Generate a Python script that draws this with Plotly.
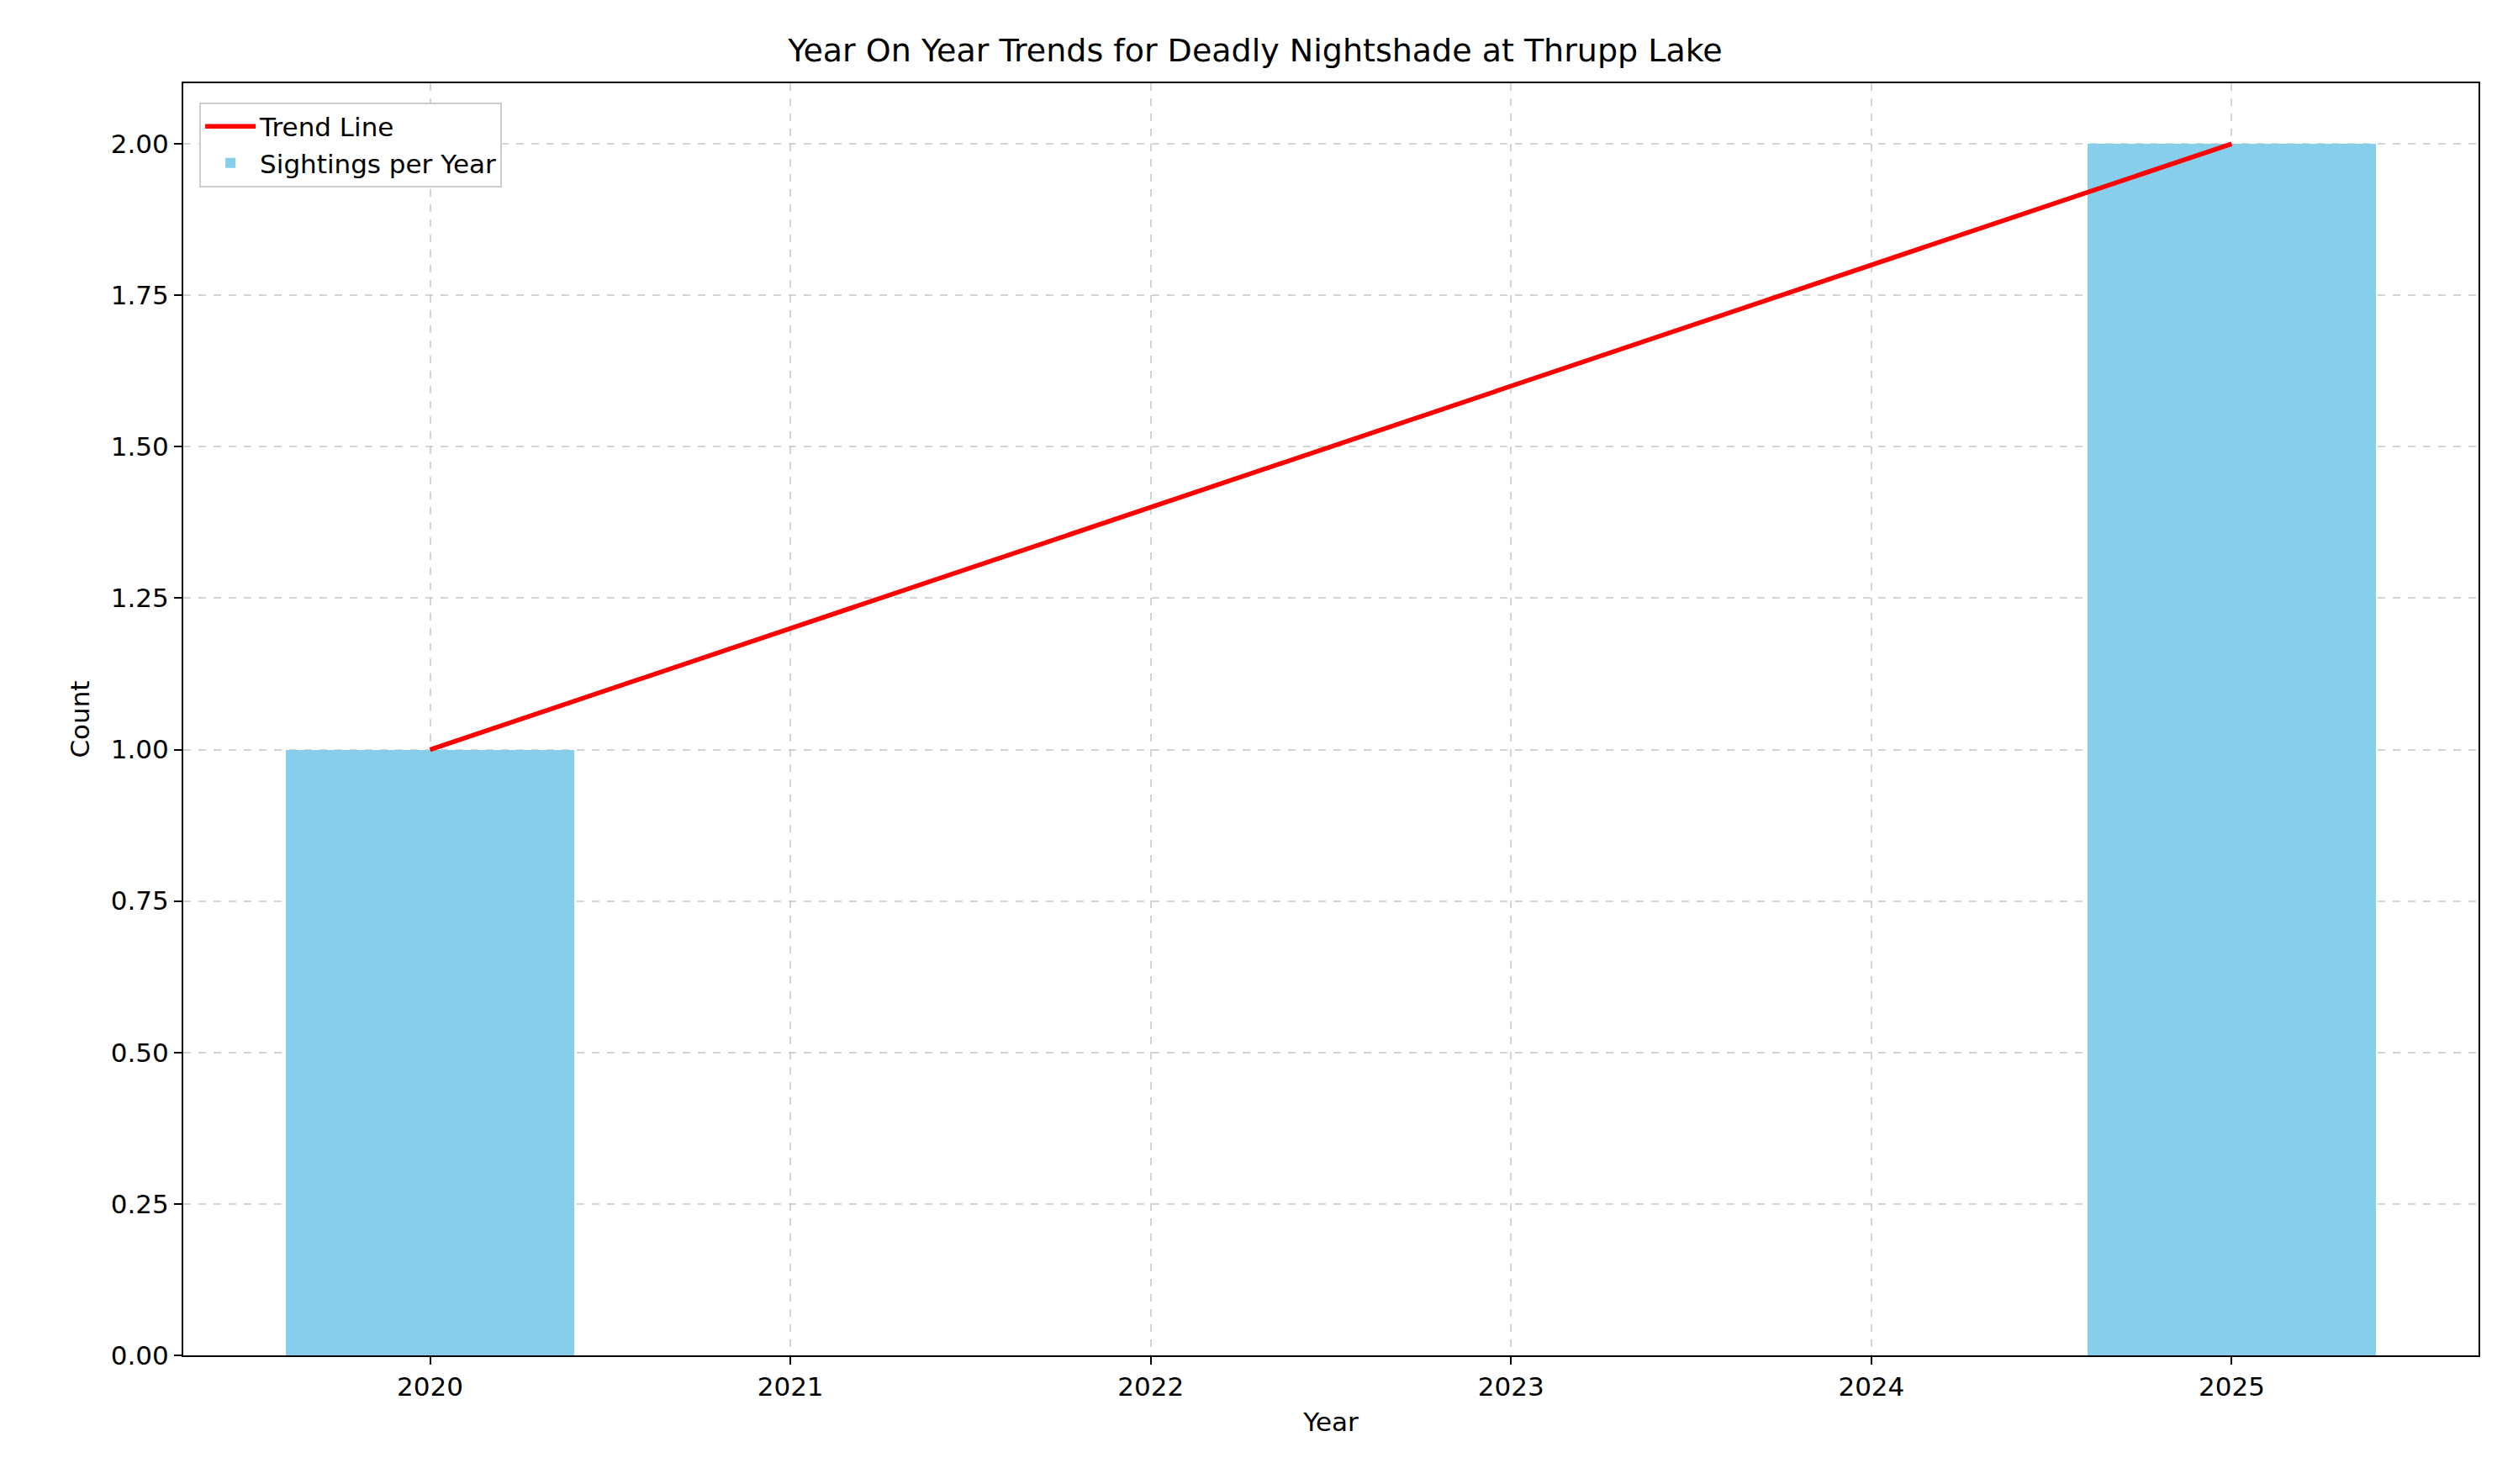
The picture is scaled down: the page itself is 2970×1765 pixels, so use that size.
import plotly.graph_objects as go

years = [2020, 2025]
sightings = [1, 2]
trend_x = [2020, 2025]
trend_y = [1.0, 2.0]
tick_years = [2020, 2021, 2022, 2023, 2024, 2025]
y_ticks = [0, 0.25, 0.5, 0.75, 1.0, 1.25, 1.5, 1.75, 2.0]

fig = go.Figure()
fig.add_trace(go.Bar(x=years, y=sightings, width=0.8, marker=dict(color="skyblue", line=dict(width=0)),
                     name="Sightings per Year"))
fig.add_trace(go.Scatter(x=trend_x, y=trend_y, mode="lines", line=dict(color="red", width=5.5),
                         name="Trend Line"))

axis_common = dict(showline=True, linecolor="black", linewidth=2, mirror=True,
                   ticks="outside", ticklen=9, tickwidth=2, tickcolor="black",
                   showgrid=True, gridcolor="rgba(176,176,176,0.55)", griddash="dash", gridwidth=1.5,
                   zeroline=False, tickfont=dict(size=31, color="black"))

fig.update_layout(
    width=2970, height=1765,
    margin=dict(l=210, r=30, t=91, b=161),
    plot_bgcolor="white", paper_bgcolor="white",
    font=dict(family="DejaVu Sans", color="black"),
    title=dict(text="Year On Year Trends for Deadly Nightshade at Thrupp Lake", x=0.5, xanchor="center",
               y=1 - 52 / 1765, yanchor="middle", font=dict(size=38)),
    xaxis=dict(range=[2019.315, 2025.685], tickvals=tick_years,
               title=dict(text="Year", font=dict(size=31), standoff=14), **axis_common),
    yaxis=dict(range=[0, 2.1], tickvals=y_ticks, tickformat=".2f",
               title=dict(text="Count", font=dict(size=31), standoff=16), **axis_common),
    legend=dict(x=0.007, y=0.985, xanchor="left", yanchor="top", bgcolor="white",
                bordercolor="#cccccc", borderwidth=2, font=dict(size=31), traceorder="reversed",
                itemwidth=60),
    showlegend=True, bargap=0,
)

fig.write_html("out.html")
